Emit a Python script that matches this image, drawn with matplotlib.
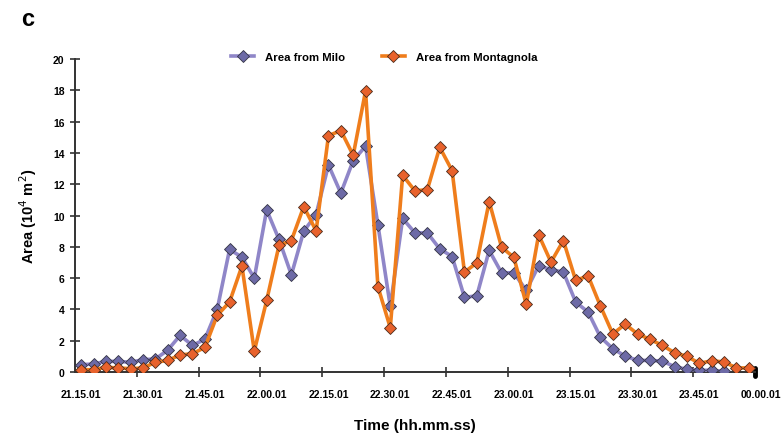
import numpy as np
import matplotlib
matplotlib.use("Agg")
from matplotlib import pyplot as plt
from matplotlib import transforms

###########################################################################
# data (area in 10^4 m2, one value every 3 minutes from 21.15.01)
###########################################################################

milo = [0.47, 0.51, 0.68, 0.68, 0.62, 0.79, 0.83, 1.40, 2.34, 1.70,
        2.09, 4.00, 7.83, 7.34, 6.00, 10.36, 8.47, 6.21, 9.00, 10.06,
        13.23, 11.43, 13.51, 14.43, 9.40, 4.19, 9.81, 8.89, 8.89, 7.87,
        7.38, 4.77, 4.87, 7.77, 6.34, 6.34, 5.21, 6.79, 6.55, 6.38,
        4.47, 3.83, 2.23, 1.49, 1.02, 0.74, 0.74, 0.70, 0.34, 0.17,
        0.11, 0.11, 0.04]

montagnola = [0.15, 0.15, 0.30, 0.26, 0.21, 0.26, 0.62, 0.74, 1.09, 1.17,
              1.57, 3.62, 4.47, 6.77, 1.34, 4.57, 8.09, 8.40, 10.57, 9.02,
              15.10, 15.43, 13.85, 17.96, 5.45, 2.83, 12.57, 11.57, 11.66, 14.36,
              12.87, 6.38, 6.98, 10.89, 7.98, 7.32, 4.32, 8.77, 7.02, 8.40,
              5.85, 6.15, 4.21, 2.43, 3.06, 2.43, 2.09, 1.70, 1.23, 1.00,
              0.55, 0.72, 0.64, 0.26, 0.26]

timeLabels = ["21.15.01", "21.30.01", "21.45.01", "22.00.01", "22.15.01", "22.30.01",
              "22.45.01", "23.00.01", "23.15.01", "23.30.01", "23.45.01", "00.00.01"]
nCat = 55          # number of 3 minute slots on the axis
labelStep = 5      # one label every 15 minutes

###########################################################################
# plot
###########################################################################

plt.rcParams['font.family'] = ['Liberation Sans', 'DejaVu Sans']

fig = plt.figure('Area', figsize=(7.84, 4.35), dpi=100)
ax = fig.add_axes([0.0957, 0.1425, 0.8673, 0.7195])

ax.plot(np.arange(len(milo)), milo, color='#8f86c8', lw=2.6,
        marker='D', ms=6, mfc='#6d6aa6', mec='#333344', mew=0.6,
        label='Area from Milo', zorder=3)
ax.plot(np.arange(len(montagnola)), montagnola, color='#ef7d1c', lw=2.6,
        marker='D', ms=6, mfc='#e8622c', mec='#4a2a1a', mew=0.6,
        label='Area from Montagnola', zorder=4)

#axes
ax.set_xlim(-0.5, nCat - 0.5)
ax.set_ylim(0, 20)
for s in ['top', 'right']:
    ax.spines[s].set_visible(False)
for s in ['left', 'bottom']:
    ax.spines[s].set_color('#333333')
    ax.spines[s].set_linewidth(1.4)

ax.set_yticks(np.arange(0, 21, 2))
ax.tick_params(axis='y', direction='inout', length=7, width=1.2, color='#333333',
               labelsize=7.5, pad=4)
for t in ax.get_yticklabels():
    t.set_fontweight('bold')

#x: marks between categories, labels centred on categories
xpad = 12
labPos = np.arange(0, nCat, labelStep)
ax.set_xticks(labPos)
ax.set_xticklabels(timeLabels[:len(labPos)], fontsize=7.5, fontweight='bold')
ax.tick_params(axis='x', which='major', length=0, pad=xpad)
ax.set_xticks(np.arange(labelStep, nCat, labelStep) - 0.5, minor=True)
ax.tick_params(axis='x', which='minor', direction='inout', length=7, width=1.2, color='#333333')
#last label sits past the end of the axis
tr = ax.get_xaxis_transform() + transforms.ScaledTranslation(0, -xpad/72., fig.dpi_scale_trans)
ax.text(nCat, 0, timeLabels[-1], transform=tr, ha='center', va='top',
        fontsize=7.5, fontweight='bold')
ax.plot([1, 1], [-0.012, 0.012], transform=ax.transAxes, color='black', lw=3.5,
        solid_capstyle='round', clip_on=False)

ax.set_xlabel("Time (hh.mm.ss)", fontsize=11, fontweight='bold', labelpad=14)
ax.set_ylabel("Area (10$^{4}$ m$^{2}$)", fontsize=10.5, fontweight='bold', labelpad=10)

plt.legend(loc='lower center', bbox_to_anchor=(0.455, 0.975), ncol=2, frameon=False,
           prop={'size': 8.2, 'weight': 'bold'}, handlelength=2.0, columnspacing=3.2,
           handletextpad=1.0, borderaxespad=0)

fig.text(0.027, 0.955, 'c', fontsize=17, fontweight='bold', va='center')

plt.savefig("out.png", dpi=100)
